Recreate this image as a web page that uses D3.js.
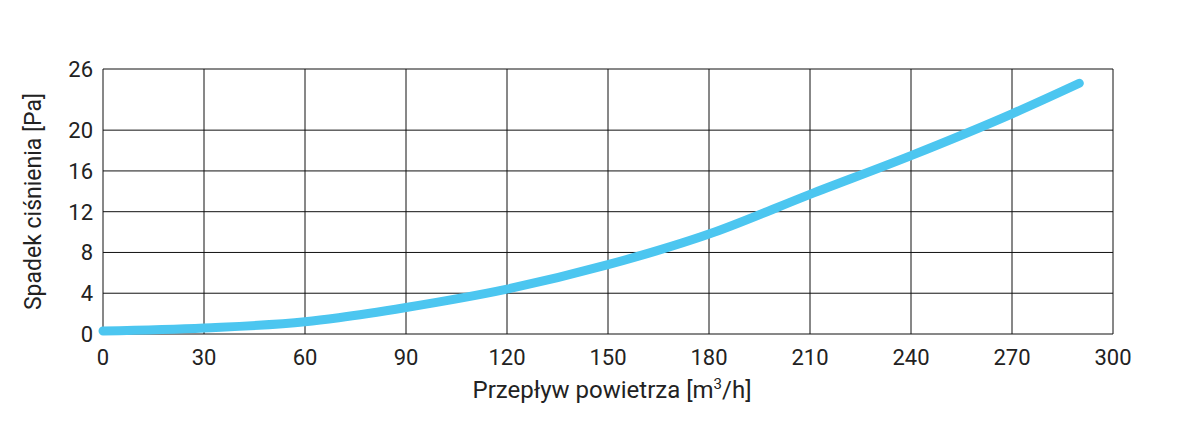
<!DOCTYPE html>
<html><head><meta charset="utf-8">
<script src="https://d3js.org/d3.v7.min.js"></script>
<style>body{margin:0;background:#fff}text{font-family:Roboto,"DejaVu Sans",sans-serif;fill:#222}</style>
</head><body><div id="chart"></div>
<script>
// data
const flow = [0, 30, 60, 70, 90, 120, 150, 180, 210, 240, 270, 290];
const drop = [0.3, 0.6, 1.2, 1.6, 2.6, 4.4, 6.8, 9.8, 13.7, 17.5, 21.6, 24.6];
const xTicks = [0, 30, 60, 90, 120, 150, 180, 210, 240, 270, 300];
const yTicks = [0, 4, 8, 12, 16, 20, 26];

const W = 1189, H = 443;
const m = { left: 103, right: 76, top: 69, bottom: 109 };

const svg = d3.select("#chart").append("svg").attr("width", W).attr("height", H);

const x = d3.scaleLinear().domain([0, 300]).range([m.left, W - m.right]);
const y = d3.scaleLinear().domain([0, 26]).range([H - m.bottom, m.top]);

const g = svg.append("g");

// grid
g.selectAll(".vx").data(xTicks).enter().append("line")
  .attr("x1", d => x(d)).attr("x2", d => x(d))
  .attr("y1", y(0)).attr("y2", y(26))
  .attr("stroke", "#111").attr("stroke-width", 1);
g.selectAll(".hy").data(yTicks).enter().append("line")
  .attr("y1", d => y(d)).attr("y2", d => y(d))
  .attr("x1", x(0)).attr("x2", x(300))
  .attr("stroke", "#111").attr("stroke-width", 1);

// tick labels
g.selectAll(".xl").data(xTicks).enter().append("text")
  .attr("x", d => x(d)).attr("y", y(0) + 31)
  .attr("text-anchor", "middle").attr("font-size", 22).text(d => d);
g.selectAll(".yl").data(yTicks).enter().append("text")
  .attr("x", x(0) - 10).attr("y", d => y(d) + 8)
  .attr("text-anchor", "end").attr("font-size", 22).text(d => d);

// axis titles
const xt = svg.append("text").attr("x", 612).attr("y", 398)
  .attr("text-anchor", "middle").attr("font-size", 24);
xt.append("tspan").text("Przepływ powietrza [m");
xt.append("tspan").attr("font-size", 15).attr("dy", -9).text("3");
xt.append("tspan").attr("dy", 9).text("/h]");

svg.append("text")
  .attr("transform", "translate(41," + ((y(0) + y(26)) / 2) + ") rotate(-90)")
  .attr("text-anchor", "middle").attr("font-size", 23).text("Spadek ciśnienia [Pa]");

// curve
const line = d3.line().x((d, i) => x(flow[i])).y(d => y(d)).curve(d3.curveMonotoneX);
svg.append("path").datum(drop)
  .attr("d", line).attr("fill", "none")
  .attr("stroke", "#4cc6f0").attr("stroke-width", 9).attr("stroke-linecap", "round");
</script></body></html>
